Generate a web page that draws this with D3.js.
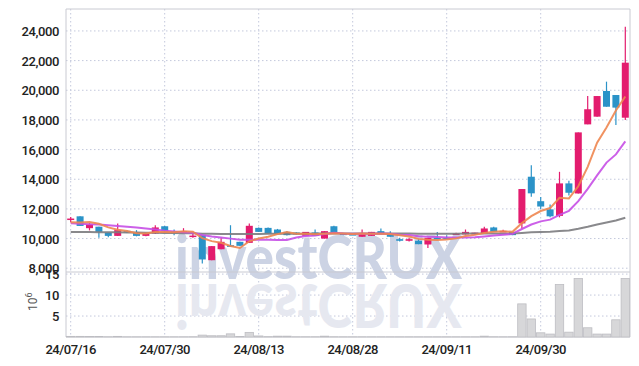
<!DOCTYPE html>
<html>
<head>
<meta charset="utf-8">
<script src="https://cdn.jsdelivr.net/npm/d3@7"></script>
<style>
  body { margin: 0; background: #fff; }
  svg { display: block; }
</style>
</head>
<body>
<div id="chart"></div>
<script>
// trading days shown on the chart
const dates = [
  "24/07/16","24/07/17","24/07/18","24/07/19","24/07/22","24/07/23","24/07/24","24/07/25","24/07/26","24/07/29",
  "24/07/30","24/07/31","24/08/01","24/08/02","24/08/05","24/08/06","24/08/07","24/08/08","24/08/09","24/08/12",
  "24/08/13","24/08/14","24/08/16","24/08/19","24/08/20","24/08/21","24/08/22","24/08/23","24/08/26","24/08/27",
  "24/08/28","24/08/29","24/08/30","24/09/02","24/09/03","24/09/04","24/09/05","24/09/06","24/09/09","24/09/10",
  "24/09/11","24/09/12","24/09/13","24/09/19","24/09/20","24/09/23","24/09/24","24/09/25","24/09/26","24/09/27",
  "24/09/30","24/10/02","24/10/04","24/10/07","24/10/08","24/10/10","24/10/11","24/10/14","24/10/15","24/10/16"
];
const open = [11300,11500,10700,10800,10400,10180,10520,10420,10180,10340,
  10830,10500,10450,10150,10230,8540,9280,9550,9780,9710,
  10720,10720,10610,10450,10410,10180,10410,10000,10830,10340,
  10300,10120,10180,10500,10340,9960,9850,9850,9600,10050,
  10050,10280,10280,10280,10340,10750,10500,10450,11020,14170,
  12520,11970,11530,13720,13040,17700,18220,19950,19680,18150];
const high = [11450,11500,11050,10800,10400,11020,10550,10570,10380,10900,
  10850,10610,10700,10300,10230,9490,10070,10900,9780,11020,
  10750,10750,10650,10500,10420,10450,10610,10500,10870,10380,
  10340,10610,10450,10680,10500,10050,10050,9950,10050,10450,
  10230,10400,10610,10400,10790,10790,10600,10450,13340,14950,
  12800,12300,14500,13890,17160,19610,19610,20580,19680,24290];
const low = [11100,10850,10550,10050,10080,10180,10380,10150,10150,10300,
  10450,10230,10400,10050,8310,8540,9280,9440,9480,9710,
  10450,10340,10300,10200,10250,10180,10180,10000,10350,10230,
  10250,10120,10180,10340,10120,9800,9800,9620,9370,10000,
  10000,10280,10280,10280,10340,10450,10450,10230,10680,12820,
  11990,11430,11430,12900,13040,17700,18220,18890,17660,18000];
const close = [11350,10850,10950,10450,10180,10570,10410,10180,10340,10750,
  10520,10350,10500,10200,8590,9490,9780,9440,9510,10860,
  10450,10340,10340,10230,10280,10450,10180,10500,10350,10230,
  10280,10340,10450,10340,10120,9850,9960,9620,10050,10020,
  10030,10340,10450,10400,10680,10450,10520,10230,13340,13050,
  12160,11500,13720,13090,17160,18720,19610,18890,18830,21860];
// volume in millions of shares
const volume = [0.15,0.15,0.12,0.12,0.05,0.15,0.04,0.04,0.04,0.04,
  0.04,0.04,0.04,0.05,0.45,0.3,0.3,0.75,0.1,1.1,
  0.25,0.08,0.2,0.2,0.05,0.05,0.05,0.2,0.05,0.04,
  0.04,0.04,0.04,0.04,0.04,0.04,0.04,0.04,0.04,0.04,
  0.04,0.04,0.04,0.04,0.2,0.05,0.04,0.05,7.9,4.3,
  1.0,0.7,12.5,1.15,13.95,2.2,0.7,0.7,4.1,13.95];
// moving averages as drawn
const ma5 = [11100,11080,11120,11000,10756,10600,10512,10358,10336,10450,
  10440,10428,10492,10464,10032,9826,9712,9500,9362,9816,
  10008,10120,10300,10444,10328,10328,10296,10328,10352,10342,
  10308,10340,10330,10328,10306,10220,10144,9978,9920,9900,
  9936,10012,10178,10248,10380,10464,10500,10452,11040,11514,
  11856,12056,12754,12704,13526,14838,16460,17494,18642,19582];
const ma10 = [11030,11000,10970,10940,10900,10850,10800,10750,10680,10603,
  10520,10470,10425,10400,10241,10133,10070,9996,9913,9924,
  9917,9916,9900,9903,10072,10168,10208,10314,10398,10335,
  10318,10318,10329,10340,10324,10264,10242,10154,10124,10103,
  10078,10078,10078,10084,10140,10200,10256,10315,10644,10947,
  11160,11276,11603,11872,12520,13347,14258,15124,15673,16554];
const ma60 = [10450,10445,10440,10432,10425,10418,10410,10402,10395,10388,
  10380,10372,10365,10358,10330,10320,10315,10305,10300,10310,
  10315,10320,10325,10328,10330,10332,10333,10335,10336,10336,
  10337,10338,10338,10339,10338,10335,10333,10330,10330,10330,
  10328,10330,10333,10335,10337,10340,10340,10338,10380,10420,
  10445,10460,10510,10550,10660,10795,10945,11080,11215,11400];
const priceTicks = [8000,10000,12000,14000,16000,18000,20000,22000,24000];
const volTicks = [5,10,15];
const xTicks = ["24/07/16","24/07/30","24/08/13","24/08/28","24/09/11","24/09/30"];

const width = 639, height = 366;
const plotL = 66, plotR = 630, plotT = 9, splitY = 272, plotB = 337;

const upColor = "#e31c6e", downColor = "#2b93c8";

const svg = d3.select("#chart").append("svg")
  .attr("width", width)
  .attr("height", height);

const x = d3.scaleBand().domain(dates).range([plotL, plotR]).padding(0);
const y = d3.scaleLinear().domain([7745, 25480]).range([splitY, plotT]);
const yv = d3.scaleLinear().domain([0, 15.5]).range([plotB, splitY]);
const cx = d => x(d) + x.bandwidth() / 2;

const gridColor = "#c3c8dc";

// grid
svg.append("g").selectAll("line")
  .data(priceTicks)
  .enter().append("line")
  .attr("x1", plotL).attr("x2", plotR)
  .attr("y1", d => y(d)).attr("y2", d => y(d))
  .attr("stroke", gridColor).attr("stroke-dasharray", "1.5,2.5");

svg.append("g").selectAll("line")
  .data(volTicks)
  .enter().append("line")
  .attr("x1", plotL).attr("x2", plotR)
  .attr("y1", d => yv(d)).attr("y2", d => yv(d))
  .attr("stroke", gridColor).attr("stroke-dasharray", "1.5,2.5");

svg.append("g").selectAll("line")
  .data(xTicks)
  .enter().append("line")
  .attr("x1", cx).attr("x2", cx)
  .attr("y1", plotT).attr("y2", plotB)
  .attr("stroke", gridColor).attr("stroke-dasharray", "1.5,2.5");

// watermark + reflection
const wm = svg.append("g").style("font-family", "Lato, 'DejaVu Sans', sans-serif").style("font-weight", 900);
wm.append("text")
  .attr("x", 175).attr("y", 279)
  .attr("textLength", 287).attr("lengthAdjust", "spacingAndGlyphs")
  .style("font-size", "60px")
  .attr("fill", "#ccd3e4")
  .text("investCRUX");
wm.append("text")
  .attr("transform", "translate(0,563) scale(1,-1)")
  .attr("x", 175).attr("y", 279)
  .attr("textLength", 287).attr("lengthAdjust", "spacingAndGlyphs")
  .style("font-size", "60px")
  .attr("fill", "#e6e8f0")
  .text("investCRUX");

// frame
const frame = svg.append("g").attr("stroke", "#c9cad2").attr("stroke-width", 1);
frame.append("line").attr("x1", plotL).attr("x2", plotR).attr("y1", plotT).attr("y2", plotT);
frame.append("line").attr("x1", plotL).attr("x2", plotR).attr("y1", splitY).attr("y2", splitY);
frame.append("line").attr("x1", plotL).attr("x2", plotR).attr("y1", plotB).attr("y2", plotB);
frame.append("line").attr("x1", plotL).attr("x2", plotL).attr("y1", plotT).attr("y2", plotB);
frame.append("line").attr("x1", plotR).attr("x2", plotR).attr("y1", plotT).attr("y2", plotB);

// volume bars
svg.append("g").selectAll("rect")
  .data(dates)
  .enter().append("rect")
  .attr("x", d => x(d) + 0.5)
  .attr("width", x.bandwidth() - 1)
  .attr("y", (d, i) => yv(volume[i]))
  .attr("height", (d, i) => plotB - yv(volume[i]))
  .attr("fill", "#d7d7d9")
  .attr("stroke", "#bdbdc2")
  .attr("stroke-width", 0.8);

// candles
const bodyW = 7;
const candles = svg.append("g").selectAll("g")
  .data(dates)
  .enter().append("g");

candles.append("line")
  .attr("x1", cx).attr("x2", cx)
  .attr("y1", (d, i) => y(high[i]))
  .attr("y2", (d, i) => y(low[i]))
  .attr("stroke", (d, i) => close[i] >= open[i] ? upColor : downColor)
  .attr("stroke-width", 1.2);

candles.append("rect")
  .attr("x", d => cx(d) - bodyW / 2)
  .attr("width", bodyW)
  .attr("y", (d, i) => y(Math.max(open[i], close[i])))
  .attr("height", (d, i) => Math.max(1.5, Math.abs(y(open[i]) - y(close[i]))))
  .attr("fill", (d, i) => close[i] >= open[i] ? upColor : downColor);

// moving averages
const line = d3.line()
  .x((d, i) => cx(dates[i]))
  .y(d => y(d));

svg.append("path").datum(ma60).attr("d", line)
  .attr("fill", "none").attr("stroke", "#7c7c80").attr("stroke-width", 2).attr("opacity", 0.9);
svg.append("path").datum(ma10).attr("d", line)
  .attr("fill", "none").attr("stroke", "#c74fe6").attr("stroke-width", 2).attr("opacity", 0.9);
svg.append("path").datum(ma5).attr("d", line)
  .attr("fill", "none").attr("stroke", "#ee8650").attr("stroke-width", 2).attr("opacity", 0.9);

// axes labels
const fontFam = "Roboto, 'DejaVu Sans', sans-serif";
const fmt = d3.format(",");

svg.append("g").selectAll("text")
  .data(priceTicks)
  .enter().append("text")
  .attr("x", 59).attr("y", d => y(d) + 5)
  .attr("text-anchor", "end")
  .style("font-family", fontFam).style("font-size", "13px").style("font-weight", 500)
  .style("letter-spacing", "-0.4px")
  .attr("fill", "#222")
  .text(d => fmt(d));

svg.append("g").selectAll("text")
  .data(volTicks)
  .enter().append("text")
  .attr("x", 59).attr("y", d => yv(d) + 5)
  .attr("text-anchor", "end")
  .style("font-family", fontFam).style("font-size", "13px").style("font-weight", 500)
  .style("letter-spacing", "-0.4px")
  .attr("fill", "#222")
  .text(d => d);

const unit = svg.append("text")
  .attr("transform", "translate(37,311) rotate(-90)")
  .style("font-family", fontFam).style("font-size", "12px")
  .attr("fill", "#555");
unit.append("tspan").text("10");
unit.append("tspan").attr("dy", -5).style("font-size", "9px").text("6");

svg.append("g").selectAll("text")
  .data(xTicks)
  .enter().append("text")
  .attr("x", cx)
  .attr("y", 354)
  .attr("text-anchor", "middle")
  .style("font-family", fontFam).style("font-size", "13px").style("font-weight", 500)
  .style("letter-spacing", "-0.5px")
  .attr("fill", "#222")
  .text(d => d);
</script>
</body>
</html>
